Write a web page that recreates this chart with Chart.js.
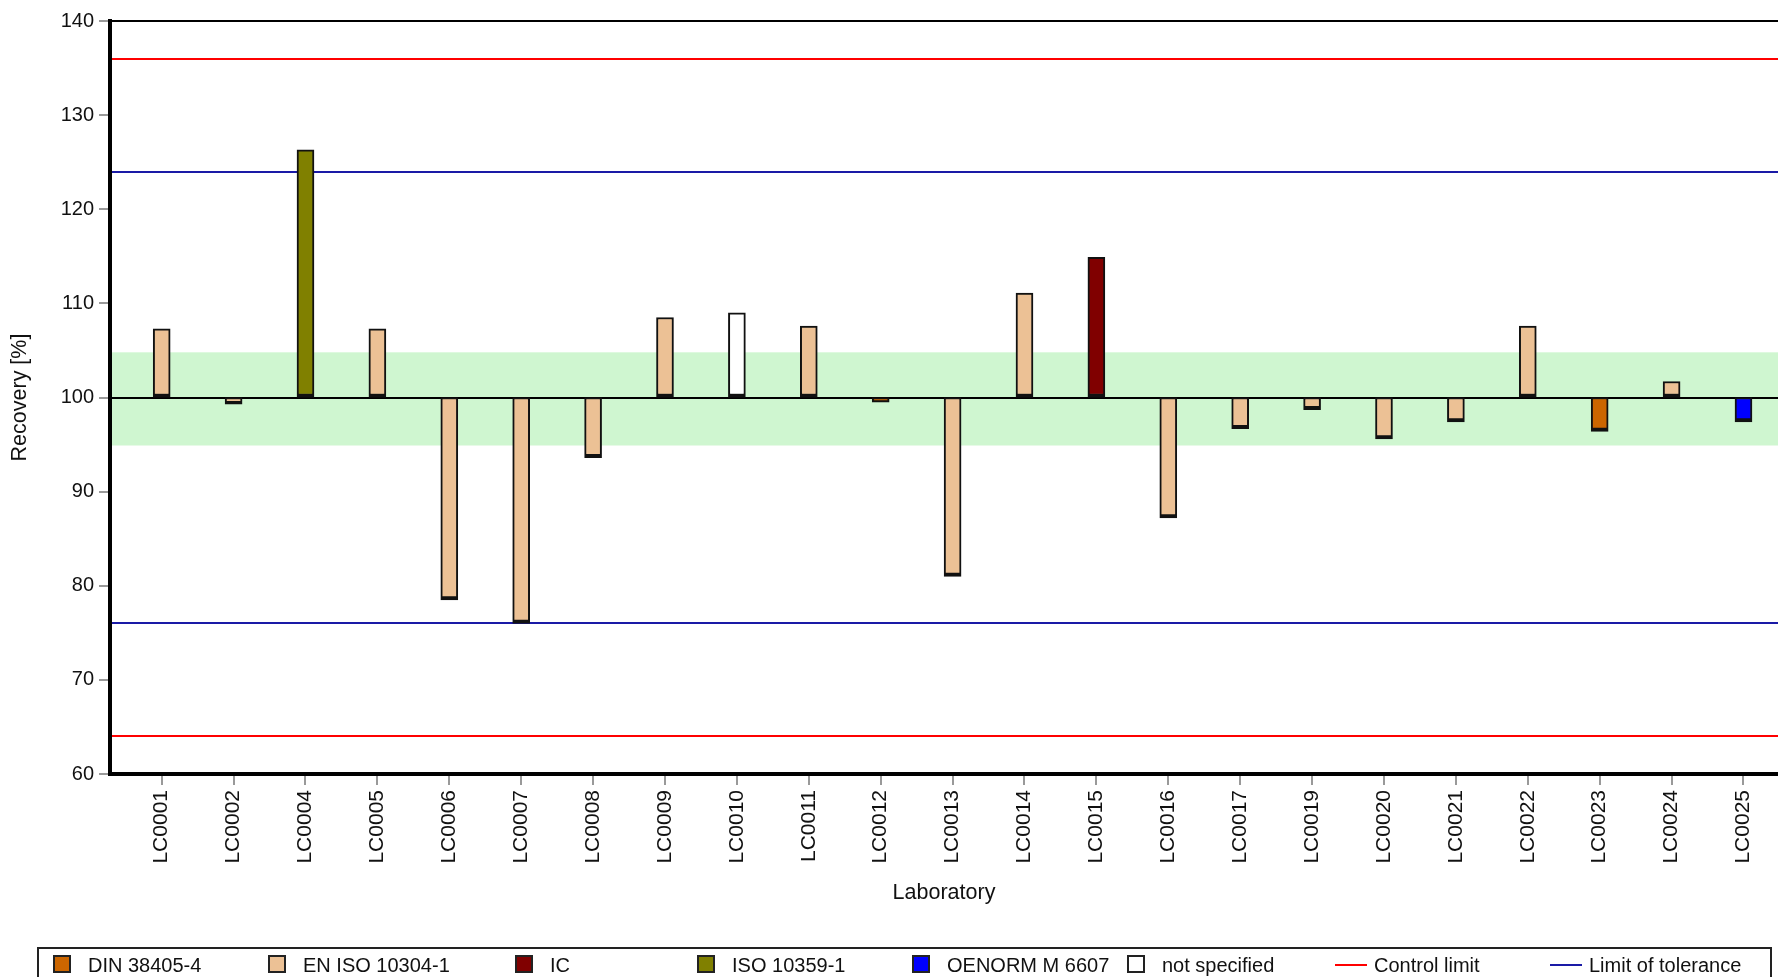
<!DOCTYPE html>
<html>
<head>
<meta charset="utf-8">
<script src="https://cdn.jsdelivr.net/npm/chart.js@4"></script>
<style>
  html, body { margin: 0; padding: 0; background: #fff; }
  #wrap { position: relative; width: 1778px; height: 977px; overflow: hidden;
          font-family: "Liberation Sans", Arial, sans-serif; color: #111; }
  #legendBox { position: absolute; left: 37px; top: 947px; width: 1735px; height: 60px;
               border: 2px solid #222; box-sizing: border-box; }
  .item { position: absolute; top: 953px; font-size: 20px; line-height: 24px; white-space: nowrap; }
  .box { position: absolute; top: 2px; width: 14px; height: 14px; border: 2px solid #222; }
  .line { position: absolute; top: 11px; width: 32px; height: 2px; }
</style>
</head>
<body>
<div id="wrap">
  <canvas id="chart" width="1778" height="977"></canvas>
  <div id="legendBox"></div>
  <div id="legend"></div>
</div>
<script>
// Recovery per laboratory
const labs = ["LC0001", "LC0002", "LC0004", "LC0005", "LC0006", "LC0007", "LC0008", "LC0009",
  "LC0010", "LC0011", "LC0012", "LC0013", "LC0014", "LC0015", "LC0016", "LC0017", "LC0019",
  "LC0020", "LC0021", "LC0022", "LC0023", "LC0024", "LC0025"];
const recovery = [107.3, 99.3, 126.3, 107.3, 78.5, 76.0, 93.6, 108.5,
  109.0, 107.6, 99.5, 81.0, 111.1, 114.9, 87.2, 96.7, 98.7,
  95.6, 97.4, 107.6, 96.4, 101.7, 97.4];
// index into methods for each lab
const methodOf = [1, 1, 3, 1, 1, 1, 1, 1,
  5, 1, 0, 1, 1, 2, 1, 1, 1,
  1, 1, 1, 0, 1, 4];
const methods = ["DIN 38405-4", "EN ISO 10304-1", "IC", "ISO 10359-1", "OENORM M 6607", "not specified"];
const methodColors = ["#cc6600", "#ecc195", "#800000", "#808000", "#0000ff", "#ffffff"];

const assigned = 100;
const targetRange = [94.9, 104.8];
const controlLimits = [64, 136];
const toleranceLimits = [76, 124];

// Background band + limit lines
const refLines = {
  id: "refLines",
  beforeDatasetsDraw(chart) {
    const { ctx, chartArea: a, scales: { y } } = chart;
    ctx.save();
    const t1 = y.getPixelForValue(targetRange[1]);
    const t0 = y.getPixelForValue(targetRange[0]);
    ctx.fillStyle = "#cff6d0";
    ctx.fillRect(a.left + 2, t1, a.right - a.left - 2, t0 - t1);

    function hline(v, color, w) {
      const py = Math.round(y.getPixelForValue(v));
      ctx.strokeStyle = color;
      ctx.lineWidth = w;
      ctx.beginPath();
      ctx.moveTo(a.left + 2, py);
      ctx.lineTo(a.right, py);
      ctx.stroke();
    }
    controlLimits.forEach(v => hline(v, "#ff0000", 2));
    toleranceLimits.forEach(v => hline(v, "#1a1aa6", 2));
    hline(assigned, "#000", 2);
    // top frame
    ctx.strokeStyle = "#000";
    ctx.lineWidth = 2;
    ctx.beginPath();
    ctx.moveTo(a.left, a.top);
    ctx.lineTo(a.right, a.top);
    ctx.stroke();
    ctx.restore();
  }
};

new Chart(document.getElementById("chart"), {
  type: "bar",
  data: {
    datasets: [{
      data: labs.map((l, i) => ({ x: i, y: [assigned, recovery[i]] })),
      backgroundColor: methodOf.map(m => methodColors[m]),
      borderColor: "#111",
      borderWidth: { top: 2, left: 2, right: 2, bottom: 4 },
      borderSkipped: false,
      barThickness: 17
    }]
  },
  options: {
    responsive: false,
    animation: false,
    layout: { padding: { top: 21, left: 0, right: 0, bottom: 67 } },
    plugins: { legend: { display: false }, tooltip: { enabled: false } },
    scales: {
      x: {
        type: "linear",
        offset: false,
        min: -0.719,
        max: 22.48,
        afterBuildTicks: s => { s.ticks = labs.map((l, i) => ({ value: i })); },
        afterFit: s => { s.height = 136; },
        grid: { offset: false, drawOnChartArea: false, tickLength: 11, color: "#999", lineWidth: 2 },
        border: { color: "#000", width: 4 },
        ticks: {
          autoSkip: false, minRotation: 90, maxRotation: 90, padding: 5,
          color: "#111", font: { family: "Liberation Sans", size: 21 },
          callback: v => labs[v]
        },
        title: {
          display: true, text: "Laboratory", color: "#111",
          font: { family: "Liberation Sans", size: 21.5 }, padding: { top: 0, bottom: 4 }
        }
      },
      y: {
        min: 60,
        max: 140,
        afterFit: s => { s.width = 110; },
        grid: { drawOnChartArea: false, tickLength: 11, color: "#999", lineWidth: 2 },
        border: { color: "#000", width: 4 },
        ticks: { stepSize: 10, padding: 5, color: "#111", font: { family: "Liberation Sans", size: 20 } },
        title: {
          display: true, text: "Recovery [%]", color: "#111",
          font: { family: "Liberation Sans", size: 21.5 }, padding: { top: 7, bottom: 0 }
        }
      }
    }
  },
  plugins: [refLines]
});

// Legend below the chart
const boxLeft = [53, 268, 515, 697, 912, 1127];
const lineItems = [
  { name: "Control limit", color: "#ff0000", left: 1335 },
  { name: "Limit of tolerance", color: "#1a1aa6", left: 1550 }
];
const leg = document.getElementById("legend");
methods.forEach((name, i) => {
  const d = document.createElement("div");
  d.className = "item";
  d.style.left = boxLeft[i] + "px";
  d.innerHTML = '<span class="box" style="left:0;background:' + methodColors[i] + '"></span>' +
    '<span style="margin-left:35px">' + name + '</span>';
  leg.appendChild(d);
});
lineItems.forEach(it => {
  const d = document.createElement("div");
  d.className = "item";
  d.style.left = it.left + "px";
  d.innerHTML = '<span class="line" style="left:0;background:' + it.color + '"></span>' +
    '<span style="margin-left:39px">' + it.name + '</span>';
  leg.appendChild(d);
});
</script>
</body>
</html>
